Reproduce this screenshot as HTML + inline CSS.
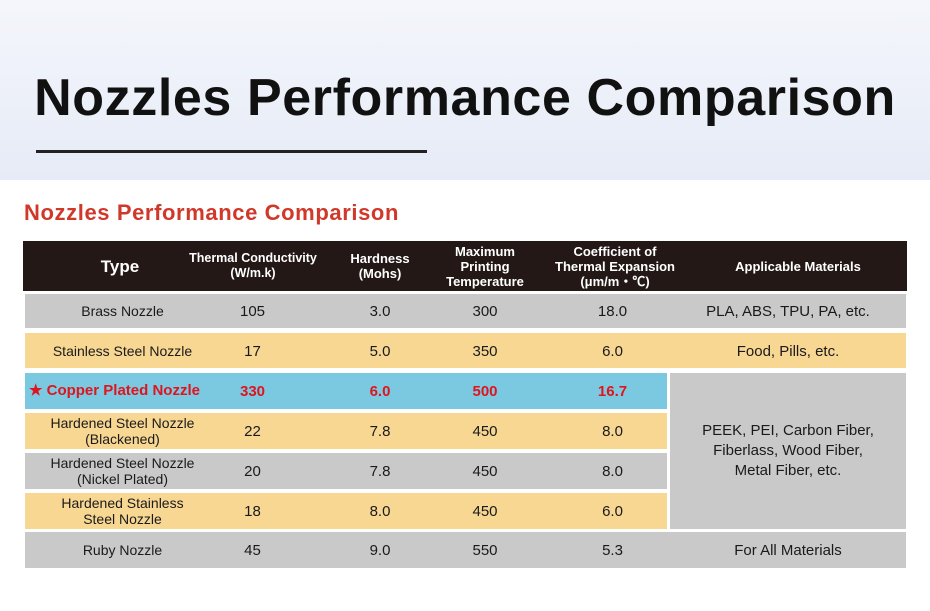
<!DOCTYPE html>
<html><head><meta charset="utf-8"><style>
*{margin:0;padding:0;box-sizing:border-box}
body{width:930px;height:611px;background:#fff;position:relative;overflow:hidden;font-family:"Liberation Sans",sans-serif;color:#1a1a1a}
.band{position:absolute;left:0;top:0;width:930px;height:180px;background:linear-gradient(#f4f6fb,#e6ebf7)}
.h1{position:absolute;left:0;width:930px;top:68px;text-align:center;font-size:52px;font-weight:bold;color:#111;letter-spacing:0.6px}
.ul{position:absolute;left:36px;top:150px;width:391px;height:3px;background:#222}
.sub{position:absolute;left:24px;top:200px;font-size:22px;font-weight:bold;color:#d0382a;letter-spacing:0.6px}
.c{position:absolute;display:flex;align-items:center;justify-content:center;text-align:center;font-size:14px;line-height:16px}
.hd{color:#fff;font-weight:bold;font-size:13px;line-height:15px}
.r{position:absolute}
</style></head><body>
<div class="band"></div>
<div class="h1">Nozzles Performance Comparison</div>
<div class="ul"></div>
<div class="sub">Nozzles Performance Comparison</div>
<div id="t"></div>
<script>
const cols=[[65,175],[168,338],[330,430],[430,540],[540,690],[690,906]];
const header=["Type","Thermal&nbsp;Conductivity<br>(W/m.k)","Hardness<br>(Mohs)","Maximum<br>Printing<br>Temperature","Coefficient of<br>Thermal Expansion<br>(μm/m・℃)","Applicable Materials"];
const types=["Brass Nozzle","Stainless Steel Nozzle","★ Copper Plated Nozzle","Hardened Steel Nozzle<br>(Blackened)","Hardened Steel Nozzle<br>(Nickel Plated)","Hardened Stainless<br>Steel Nozzle","Ruby Nozzle"];
const conductivity=["105","17","330","22","20","18","45"];
const hardness=["3.0","5.0","6.0","7.8","7.8","8.0","9.0"];
const maxTemp=["300","350","500","450","450","450","550"];
const expansion=["18.0","6.0","16.7","8.0","8.0","6.0","5.3"];
const rowTops=[294,333,373,413,453,493,532];
const rowH=[34,35,36,36,36,36,36];
const bgs=["#c9c9c9","#f8d793","#7bc9e1","#f8d793","#c9c9c9","#f8d793","#c9c9c9"];
const t=document.getElementById('t');
function add(cls,x,y,w,h,html,style,name){const d=document.createElement('div');d.className=cls;d.style.cssText=`left:${x}px;top:${y}px;width:${w}px;height:${h}px;`+(style||'');d.innerHTML=html||'';


t.appendChild(d);return d;}
add('r',23,241,884,50,'','background:#231816','table-header');
header.forEach((h,i)=>{add('c hd',cols[i][0],241,cols[i][1]-cols[i][0],50,h,i==0?'font-size:17px':(i==1?'font-size:12.5px':''),'header-'+i);});
for(let i=0;i<7;i++){
 const y=rowTops[i],h=rowH[i];
 const right=(i>=2&&i<=5)?667:906;
 add('r',25,y,right-25,h,'','background:'+bgs[i],'row-bg-'+i);
 const red=i==2?'color:#e0141e;font-weight:bold;font-size:15px;':'';
 add('c',25,y,195,h,types[i],red+(i==2?'justify-content:flex-start;padding-left:4px;':''),'type-'+i);
 add('c',200,y,105,h,conductivity[i],red+'font-size:15px;padding-top:2px','conductivity-'+i);
 add('c',330,y,100,h,hardness[i],red+'font-size:15px;padding-top:2px','hardness-'+i);
 add('c',435,y,100,h,maxTemp[i],red+'font-size:15px;padding-top:2px','temp-'+i);
 add('c',560,y,105,h,expansion[i],red+'font-size:15px;padding-top:2px','expansion-'+i);
}
add('r',670,373,236,156,'','background:#c9c9c9','materials-merged-bg');
add('c',670,373,236,156,'PEEK, PEI, Carbon Fiber,<br>Fiberlass, Wood Fiber,<br>Metal Fiber, etc.','font-size:15px;line-height:20px','materials-hardened');
add('c',670,294,236,34,'PLA, ABS, TPU, PA, etc.','font-size:15px;padding-top:2px','materials-brass');
add('c',670,333,236,35,'Food, Pills, etc.','font-size:15px;padding-top:2px','materials-stainless');
add('c',670,532,236,36,'For All Materials','font-size:15px;padding-top:2px','materials-ruby');
</script>
</body></html>
